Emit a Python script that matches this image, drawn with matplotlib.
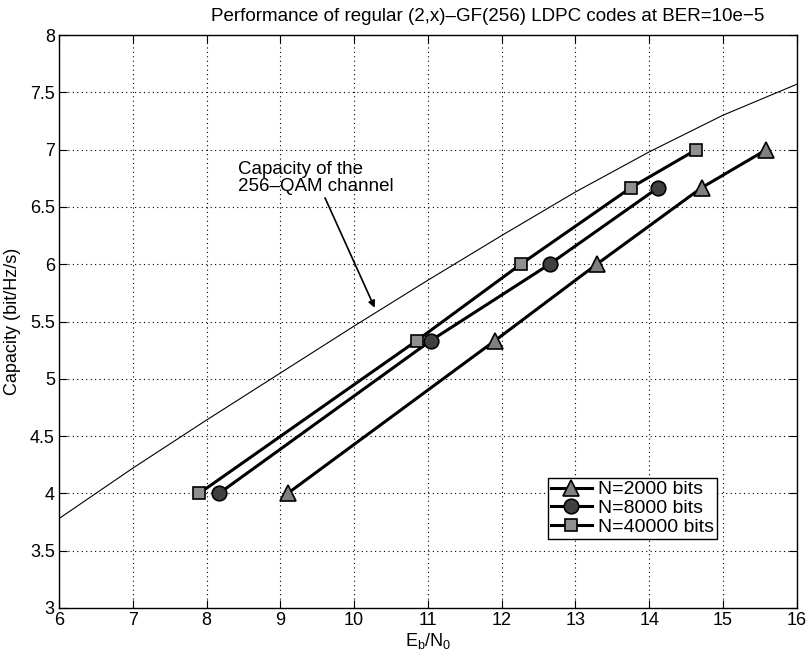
import matplotlib
matplotlib.use("Agg")
import matplotlib.pyplot as plt

plt.rcParams['font.family'] = ['Liberation Sans', 'DejaVu Sans']
plt.rcParams['mathtext.fontset'] = 'custom'
plt.rcParams['mathtext.rm'] = 'Liberation Sans'

# capacity curve of 256-QAM channel
cap_x = [6, 7, 8, 9, 10, 11, 12, 13, 14, 15, 16]
cap_y = [3.78, 4.22, 4.64, 5.05, 5.46, 5.86, 6.25, 6.63, 6.98, 7.30, 7.57]

# N=2000 bits
n2000_x = [9.10, 11.91, 13.29, 14.71, 15.59]
n2000_y = [4.0, 5.333, 6.0, 6.667, 7.0]
# N=8000 bits
n8000_x = [8.17, 11.04, 12.65, 14.12]
n8000_y = [4.0, 5.333, 6.0, 6.667]
# N=40000 bits
n40000_x = [7.90, 10.85, 12.26, 13.75, 14.64]
n40000_y = [4.0, 5.333, 6.0, 6.667, 7.0]

labels = ['N=2000 bits', 'N=8000 bits', 'N=40000 bits']
title = 'Performance of regular (2,x)\u2013GF(256) LDPC codes at BER=10e\u22125'

fig = plt.figure(figsize=(8.08, 6.56), dpi=100)
ax = fig.add_axes([0.073, 0.0732, 0.913, 0.8734])

ax.plot(cap_x, cap_y, color='black', lw=0.8)
ax.plot(n2000_x, n2000_y, color='black', lw=2.2, marker='^', ms=11,
        mfc='#808080', mec='black', mew=1.2, label=labels[0])
ax.plot(n8000_x, n8000_y, color='black', lw=2.2, marker='o', ms=10.5,
        mfc='#404040', mec='black', mew=1.2, label=labels[1])
ax.plot(n40000_x, n40000_y, color='black', lw=2.2, marker='s', ms=8.5,
        mfc='#909090', mec='black', mew=1.2, label=labels[2])

ax.set_xlim(6, 16)
ax.set_ylim(3, 8)
ax.set_xticks(range(6, 17))
ax.set_yticks([3, 3.5, 4, 4.5, 5, 5.5, 6, 6.5, 7, 7.5, 8])
ax.set_yticklabels(['3', '3.5', '4', '4.5', '5', '5.5', '6', '6.5', '7', '7.5', '8'])
ax.grid(True, color='black', linestyle=(0, (1, 3)), lw=0.8)
ax.tick_params(direction='in', top=True, right=True, length=6, width=0.8,
               labelsize=13, pad=3)
for s in ax.spines.values():
    s.set_linewidth(1.0)

ax.text(0.581, 1.018, title, transform=ax.transAxes, ha='center', va='bottom',
        fontsize=13.5)
ax.set_xlabel(r'E$_\mathrm{b}$/N$_\mathrm{0}$', fontsize=13, labelpad=1)
ax.set_ylabel('Capacity (bit/Hz/s)', fontsize=13, labelpad=6)

ann = ax.annotate('Capacity of the\n256\u2013QAM channel', xy=(10.28, 5.62), xytext=(8.43, 6.90),
                  fontsize=13.5, ha='left', va='top', linespacing=1.0,
                  arrowprops=dict(arrowstyle='-|>', color='black', lw=1.2,
                                  shrinkA=0, shrinkB=0, mutation_scale=10),
                  annotation_clip=False)
ann.arrow_patch.set_positions((9.89, 6.40), (10.28, 5.62))

leg = ax.legend(loc='upper left', bbox_to_anchor=(0.663, 0.227), fontsize=14,
                frameon=True, fancybox=False, edgecolor='black', framealpha=1,
                borderpad=0.15, handlelength=2.1, handletextpad=0.3,
                labelspacing=0.05, borderaxespad=0)
leg.get_frame().set_linewidth(1.0)

fig.savefig('out.png', dpi=100)
